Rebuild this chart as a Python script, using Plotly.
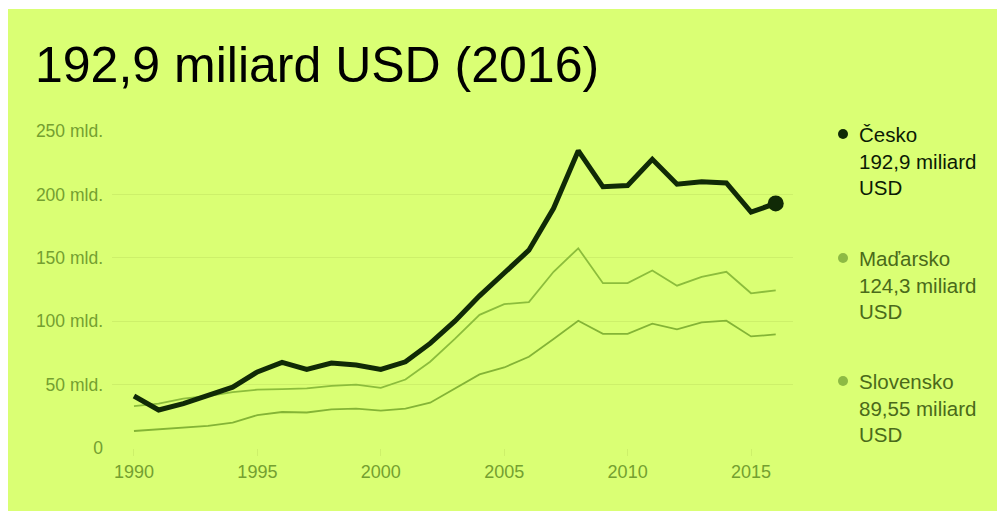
import plotly.graph_objects as go

years = list(range(1990, 2017))
cesko = [41, 30, 35, 41, 48, 60, 67.5, 62, 67, 65.5, 62, 68, 82.5, 100, 120, 138, 156, 189, 234.5, 206, 207, 227.7, 208, 210, 209, 186, 192.9]
madarsko = [33, 35, 39, 41, 44, 46, 46.5, 47, 49, 50, 47.5, 54, 68, 86, 105, 113.5, 115, 139, 157.5, 130, 130, 140, 128, 135, 139, 122, 124.3]
slovensko = [13.4, 14.7, 15.8, 17.4, 20, 26, 28.4, 28, 30.5, 31, 29.5, 31, 35.7, 47, 58, 63.5, 72, 86, 100.4, 90, 90, 98, 93.6, 99, 100.4, 88, 89.55]

title_text = "192,9 miliard USD (2016)"
legend_names = ["Česko", "Maďarsko", "Slovensko"]
legend_values = ["192,9 miliard USD", "124,3 miliard USD", "89,55 miliard USD"]
y_ticks = [0, 50, 100, 150, 200, 250]
y_ticktext = ["0", "50 mld.", "100 mld.", "150 mld.", "200 mld.", "250 mld."]
x_ticks = [1990, 1995, 2000, 2005, 2010, 2015]

BG = "#daff74"
GRID = "#cdf06a"
DARK = "#102a06"
LIGHT = "#8cbd3c"
LIGHT2 = "#84b436"
TICK = "#74a030"

W, H = 1002, 511
L, R, T, B = 112, 793, 131, 448
pw, ph = R - L, B - T

def px(p):
    return (p - L) / pw

def py(q):
    return (B - q) / ph

fig = go.Figure()
fig.add_trace(go.Scatter(x=years, y=slovensko, mode="lines", line=dict(color=LIGHT2, width=1.8), hoverinfo="skip"))
fig.add_trace(go.Scatter(x=years, y=madarsko, mode="lines", line=dict(color=LIGHT, width=1.8), hoverinfo="skip"))
fig.add_trace(go.Scatter(x=years, y=cesko, mode="lines", line=dict(color=DARK, width=5), hoverinfo="skip"))
fig.add_trace(go.Scatter(x=[years[-1]], y=[cesko[-1]], mode="markers", marker=dict(color=DARK, size=16), hoverinfo="skip", cliponaxis=False))

shapes = [dict(type="rect", xref="paper", yref="paper", x0=px(8), x1=px(997), y0=py(9), y1=py(520),
               fillcolor=BG, line=dict(width=0), layer="below")]
annotations = [dict(text=title_text, xref="paper", yref="paper", x=px(33), y=py(35), xanchor="left", yanchor="top",
                    showarrow=False, font=dict(family="Liberation Sans, Arial", size=50, color="#000000"))]

legend_y = [134, 258, 381]
legend_dot_colors = [DARK, "#8dba44", "#8dba44"]
legend_text_colors = ["#0a1a04", "#4a6a1a", "#4a6a1a"]
for name, val, yy, dc, tc in zip(legend_names, legend_values, legend_y, legend_dot_colors, legend_text_colors):
    shapes.append(dict(type="circle", xref="paper", yref="paper", xsizemode="pixel", ysizemode="pixel",
                       xanchor=px(843), yanchor=py(yy), x0=-5, x1=5, y0=-5, y1=5,
                       fillcolor=dc, line=dict(width=0)))
    v = val.split(" ")
    txt = name + "<br>" + v[0] + " " + v[1] + "<br>" + v[2]
    annotations.append(dict(text=txt, xref="paper", yref="paper", x=px(857), y=py(yy - 13), xanchor="left", yanchor="top",
                            align="left", showarrow=False, font=dict(family="Liberation Sans, Arial", size=20.5, color=tc)))

fig.update_layout(
    width=W, height=H,
    margin=dict(l=L, r=W - R, t=T, b=H - B, pad=0),
    paper_bgcolor="#ffffff",
    plot_bgcolor="rgba(0,0,0,0)",
    showlegend=False,
    shapes=shapes,
    annotations=annotations,
    xaxis=dict(range=[1989.11, 2016.7], tickvals=x_ticks, showgrid=False, zeroline=False, showline=False,
               ticks="outside", ticklen=7, tickcolor=GRID, tickwidth=1,
               tickfont=dict(family="Liberation Sans, Arial", size=18, color=TICK), fixedrange=True),
    yaxis=dict(range=[0, 250], tickvals=y_ticks, ticktext=y_ticktext, showgrid=True, gridcolor=GRID, gridwidth=1,
               zeroline=False, showline=False, ticks="", ticklabelstandoff=8,
               tickfont=dict(family="Liberation Sans, Arial", size=17.5, color=TICK), fixedrange=True),
)

fig.write_html("out.html", config={"displayModeBar": False})
